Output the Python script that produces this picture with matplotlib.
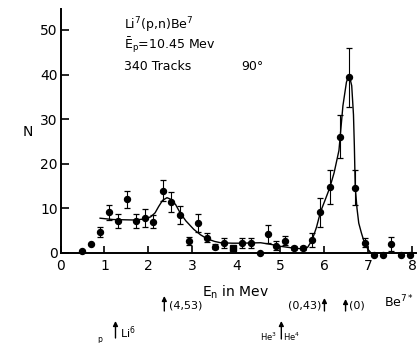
import matplotlib.pyplot as plt
import matplotlib.transforms as mtransforms

# measured points (E_n in Mev, N)
en_err = [0.89, 1.10, 1.31, 1.52, 1.71, 1.92, 2.10, 2.32, 2.52, 2.72, 2.92, 3.13,
          3.33, 3.52, 3.72, 4.13, 4.32, 4.71, 4.91, 5.11, 5.30, 5.52, 5.72, 5.91,
          6.12, 6.35, 6.56, 6.70, 6.93, 7.52]
n_err = [4.7, 9.1, 7.2, 12.0, 7.2, 7.9, 7.0, 14.0, 11.4, 8.5, 2.7, 6.7,
         3.4, 1.4, 2.2, 2.2, 2.3, 4.3, 1.6, 2.7, 1.1, 1.1, 2.9, 9.1,
         14.7, 26.1, 39.4, 14.6, 2.3, 2.0]
dn = [1.1, 1.75, 1.6, 2.0, 1.6, 2.0, 1.5, 2.4, 2.3, 2.0, 0.8, 2.0,
      1.0, 0.6, 1.1, 1.1, 1.1, 2.0, 1.0, 1.0, 0.5, 0.5, 1.5, 3.2,
      3.8, 4.9, 6.6, 3.9, 1.0, 1.6]

en_noerr = [0.49, 0.70, 4.53, 7.12, 7.33, 7.73, 7.94]
n_noerr = [0.5, 2.0, 0.1, -0.4, -0.4, -0.5, -0.5]

en_sq = [3.92]
n_sq = [1.1]

# fitted curve
curve_x = [0.90, 1.20, 1.66, 1.90, 2.05, 2.15, 2.23, 2.32, 2.42, 2.52, 2.62, 2.72,
           2.85, 3.03, 3.18, 3.33, 3.50, 3.64, 3.90, 4.09, 4.55, 4.80, 5.00, 5.30,
           5.53, 5.62, 5.72, 5.82, 5.91, 6.02, 6.12, 6.22, 6.33, 6.42, 6.50, 6.56,
           6.62, 6.66, 6.68, 6.70, 6.74, 6.78, 6.84, 6.89, 6.95, 7.00, 7.06, 7.12]
curve_y = [7.8, 7.5, 7.4, 7.6, 8.1, 9.0, 10.4, 11.8, 12.4, 12.0, 10.8, 9.0,
           7.2, 5.3, 4.1, 3.2, 2.6, 2.3, 2.2, 2.2, 2.3, 1.9, 1.5, 1.1,
           0.9, 1.3, 2.9, 5.8, 9.2, 12.0, 14.6, 18.0, 23.0, 33.0, 38.3, 40.0,
           37.5, 31.0, 24.0, 14.8, 10.0, 6.7, 4.5, 2.9, 1.5, 0.7, 0.0, -0.3]

# level markers under the axis
arrow_x = [2.36, 6.00, 6.48, 1.25, 5.02]
arrow_top = [296, 298, 299, 321, 321]
arrow_bot = [311, 311, 311, 338, 339]

fig = plt.figure(figsize=(4.19, 3.43), dpi=100)
ax = fig.add_axes([60.5 / 419, 90 / 343, 355 / 419, 244 / 343])

ax.errorbar(en_err, n_err, yerr=dn, fmt='o', color='black', ms=4.3,
            capsize=2.2, elinewidth=0.8, capthick=0.9, clip_on=False)
ax.plot(en_noerr, n_noerr, 'o', color='black', ms=4.3, clip_on=False)
ax.plot(en_sq, n_sq, 's', color='black', ms=4.3, clip_on=False)
ax.plot(curve_x, curve_y, color='black', lw=1.0, clip_on=False)

ax.set_xlim(0, 8.07)
ax.set_ylim(0, 54.7)
ax.set_xticks(range(0, 9))
ax.set_yticks(range(0, 60, 10))
ax.tick_params(axis='y', direction='in', length=6, width=1.2, pad=2, labelsize=10)
ax.tick_params(axis='x', direction='in', length=5, width=1.2, pad=4, labelsize=10)
for s in ['top', 'right']:
    ax.spines[s].set_visible(False)
for s in ['left', 'bottom']:
    ax.spines[s].set_linewidth(1.4)
ax.patch.set_alpha(0)

ax.text(0.18, 0.915, r'Li$^7$(p,n)Be$^7$', transform=ax.transAxes, fontsize=9)
ax.text(0.18, 0.835, r'$\bar{\mathrm{E}}_\mathrm{p}$=10.45 Mev', transform=ax.transAxes, fontsize=9)
ax.text(0.18, 0.75, '340 Tracks', transform=ax.transAxes, fontsize=9)
ax.text(0.51, 0.75, '90°', transform=ax.transAxes, fontsize=9)

fig.text(28 / 419, 1 - 132 / 343, 'N', fontsize=10, ha='center', va='center')
fig.text(236 / 419, 1 - 292 / 343, r'E$_\mathrm{n}$ in Mev', fontsize=10,
         ha='center', va='center')

tr = mtransforms.blended_transform_factory(ax.transData, fig.transFigure)
for x, t, b in zip(arrow_x, arrow_top, arrow_bot):
    ax.annotate('', xy=(x, 1 - t / 343), xytext=(x, 1 - b / 343),
                xycoords=tr, textcoords=tr, annotation_clip=False,
                arrowprops=dict(arrowstyle='-|>', color='black', lw=1.0,
                                mutation_scale=7, shrinkA=0, shrinkB=0))

def lab(px, py, s, ha='left', size=8):
    fig.text(px / 419, 1 - py / 343, s, fontsize=size, ha=ha, va='center')

lab(169, 305, '(4,53)')
lab(321, 305, '(0,43)', ha='right')
lab(349, 305, '(0)')
lab(384, 302, r'Be$^{7*}$', size=9)
lab(102, 340, 'p', ha='right', size=5.5)
lab(120, 333, r'Li$^6$', size=8)
lab(277, 337, r'He$^3$', ha='right', size=6)
lab(283, 337, r'He$^4$', size=6)

fig.savefig('out.png', dpi=100)
